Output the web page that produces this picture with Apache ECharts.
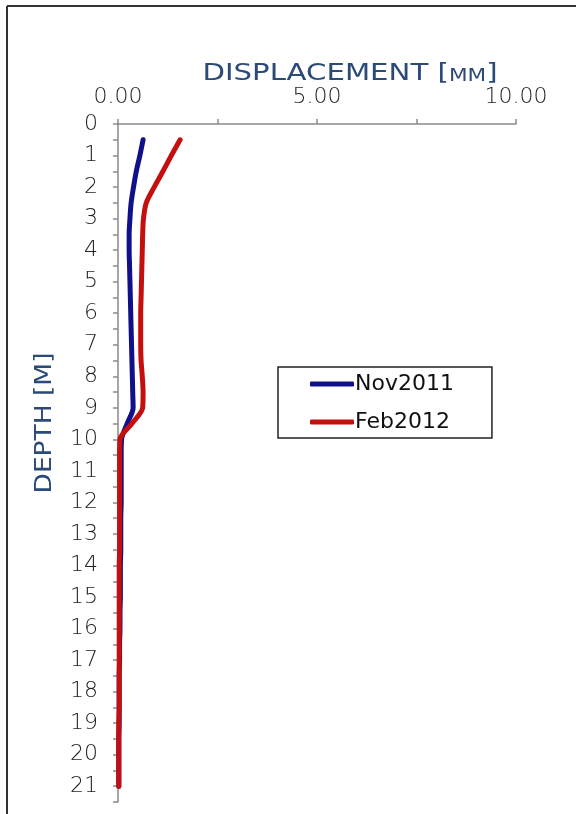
<!DOCTYPE html>
<html>
<head>
<meta charset="utf-8">
<script src="https://cdn.jsdelivr.net/npm/echarts@6/dist/echarts.min.js"></script>
<style>
  html, body { margin: 0; padding: 0; background: #ffffff; }
  #chart { width: 576px; height: 814px; }
</style>
</head>
<body>
<div id="chart"></div>
<script>
// Inclinometer profile: horizontal displacement (mm) against depth (m)
const depths = [0.5, 1, 1.5, 2, 2.5, 3, 3.5, 4, 4.5, 5, 5.5, 6, 6.5, 7, 7.5, 8, 8.5, 9, 9.5, 10,
  10.5, 11, 11.5, 12, 12.5, 13, 13.5, 14, 14.5, 15, 15.5, 16, 16.5, 17, 17.5, 18, 18.5, 19, 19.5, 20, 20.5, 21];

const nov2011 = [0.63, 0.55, 0.46, 0.39, 0.33, 0.30, 0.28, 0.28, 0.29, 0.30, 0.31, 0.32, 0.33, 0.34, 0.35, 0.36, 0.37, 0.38, 0.23, 0.09,
  0.08, 0.08, 0.08, 0.08, 0.07, 0.07, 0.07, 0.06, 0.06, 0.06, 0.05, 0.05, 0.04, 0.04, 0.03, 0.03, 0.03, 0.03, 0.02, 0.02, 0.02, 0.02];

const feb2012 = [1.56, 1.34, 1.13, 0.91, 0.71, 0.64, 0.62, 0.61, 0.60, 0.59, 0.58, 0.57, 0.57, 0.57, 0.58, 0.61, 0.63, 0.62, 0.35, 0.05,
  0.04, 0.04, 0.04, 0.04, 0.04, 0.04, 0.04, 0.03, 0.03, 0.03, 0.03, 0.03, 0.03, 0.03, 0.03, 0.03, 0.03, 0.02, 0.02, 0.02, 0.02, 0.02];

const seriesNames = ['Nov2011', 'Feb2012'];
const xTickLabels = ['0.00', '5.00', '10.00'];

const FONT = 'DejaVu Sans';
const TITLE_COLOR = '#2b4a78';
const pair = (vals) => vals.map((v, i) => [v, depths[i]]);

const chart = echarts.init(document.getElementById('chart'), null, { renderer: 'canvas' });

chart.setOption({
  backgroundColor: '#ffffff',
  animation: false,
  grid: { left: 118, top: 124, right: 60, bottom: 12, containLabel: false },
  legend: {
    data: seriesNames,
    orient: 'vertical',
    left: 278,
    top: 367,
    padding: [6, 38, 5, 32],
    itemGap: 16,
    itemWidth: 44,
    itemHeight: 5,
    icon: 'roundRect',
    borderColor: '#222',
    borderWidth: 1.5,
    textStyle: { fontFamily: FONT, fontSize: 22, color: '#111', padding: [0, 0, 0, -4] }
  },
  xAxis: {
    type: 'value',
    position: 'top',
    min: 0,
    max: 10,
    interval: 2.5,
    splitLine: { show: false },
    axisLine: { show: true, lineStyle: { color: '#8a8a8a', width: 1.5 } },
    axisTick: { show: true, length: 5, lineStyle: { color: '#8a8a8a', width: 1.5 } },
    axisLabel: {
      margin: 16,
      fontFamily: FONT,
      fontWeight: 200,
      fontSize: 22,
      color: '#222',
      formatter: (v) => {
        const idx = [0, 5, 10].indexOf(v);
        return idx >= 0 ? xTickLabels[idx] : '';
      }
    }
  },
  yAxis: {
    type: 'value',
    inverse: true,
    min: 0,
    max: 21.5,
    interval: 0.5,
    splitLine: { show: false },
    axisLine: { show: true, lineStyle: { color: '#8a8a8a', width: 1.5 } },
    axisTick: { show: true, length: 5, lineStyle: { color: '#8a8a8a', width: 1.5 } },
    axisLabel: {
      margin: 20,
      fontFamily: FONT,
      fontWeight: 200,
      fontSize: 22,
      color: '#222',
      formatter: (v) => (Number.isInteger(v) ? String(v) : '')
    }
  },
  graphic: [
    // chart frame (top and left edges)
    { type: 'line', shape: { x1: 7, y1: 6, x2: 576, y2: 6 }, style: { stroke: '#333', lineWidth: 2 } },
    { type: 'line', shape: { x1: 7, y1: 6, x2: 7, y2: 814 }, style: { stroke: '#333', lineWidth: 2 } },
    // horizontal axis title
    {
      type: 'text',
      x: 350,
      y: 74,
      scaleX: 1.27,
      style: {
        text: '{b|DISPLACEMENT [}{s|MM}{b|]}',
        align: 'center',
        verticalAlign: 'middle',
        rich: {
          b: { fontFamily: FONT, fontSize: 23, fill: TITLE_COLOR },
          s: { fontFamily: FONT, fontSize: 17, fill: TITLE_COLOR, verticalAlign: 'bottom' }
        }
      }
    },
    // vertical axis title
    {
      type: 'text',
      x: 45,
      y: 423,
      rotation: Math.PI / 2,
      scaleX: 1.15,
      style: {
        text: 'DEPTH [M]',
        fontFamily: FONT,
        fontSize: 23,
        fill: TITLE_COLOR,
        align: 'center',
        verticalAlign: 'middle'
      }
    }
  ],
  series: [
    {
      name: seriesNames[0],
      type: 'line',
      data: pair(nov2011),
      smooth: 0.3,
      showSymbol: false,
      lineStyle: { color: '#10108a', width: 5, cap: 'round' },
      itemStyle: { color: '#10108a' },
      z: 3
    },
    {
      name: seriesNames[1],
      type: 'line',
      data: pair(feb2012),
      smooth: 0.3,
      showSymbol: false,
      lineStyle: { color: '#c40f0f', width: 5, cap: 'round' },
      itemStyle: { color: '#c40f0f' },
      z: 4
    }
  ]
});
</script>
</body>
</html>
